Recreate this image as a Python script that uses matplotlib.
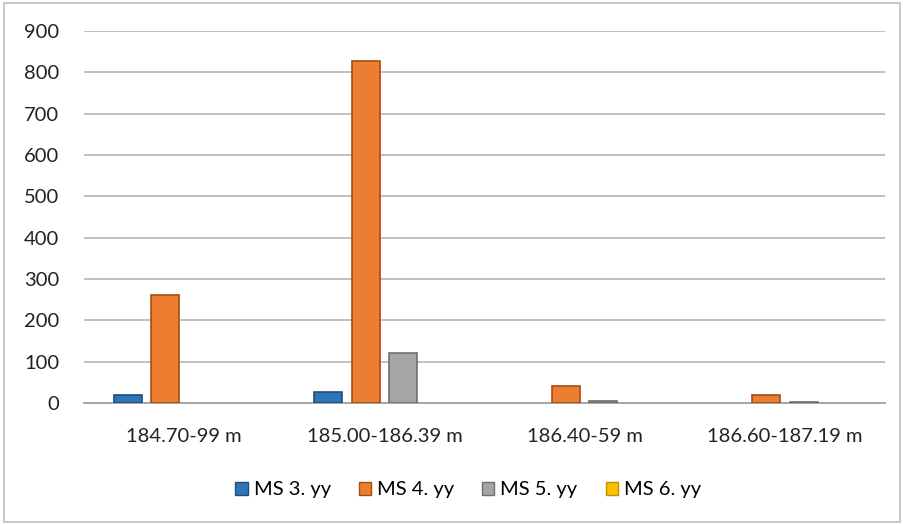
import matplotlib

matplotlib.use("Agg")
import matplotlib.pyplot as plt  # noqa: E402
import numpy as np  # noqa: E402
from matplotlib.patches import Rectangle  # noqa: E402

categories = ["184.70-99 m", "185.00-186.39 m", "186.40-59 m", "186.60-187.19 m"]
series_names = ["MS 3. yy", "MS 4. yy", "MS 5. yy", "MS 6. yy"]
ms3 = [20, 27, 0, 0]
ms4 = [262, 827, 42, 20]
ms5 = [0, 121, 5, 3]
ms6 = [0, 0, 0, 0]
y_ticks = [0, 100, 200, 300, 400, 500, 600, 700, 800, 900]

FACE = ["#2E75B6", "#ED7D31", "#A5A5A5", "#FFC000"]
EDGE = ["#1F4E79", "#A84A10", "#6E6E6E", "#BF9000"]

plt.rcParams["font.family"] = ["Lato", "DejaVu Sans"]

fig = plt.figure(figsize=(9.04, 5.24), dpi=100)
ax = fig.add_axes([0.093, 0.231, 0.886, 0.71])

x = np.arange(len(categories))
width = 0.14
step = 0.1875
offsets = [-1.5 * step, -0.5 * step, 0.5 * step, 1.5 * step]
handles = []
for values, name, off, fc, ec in zip([ms3, ms4, ms5, ms6], series_names, offsets, FACE, EDGE):
    vals = np.asarray(values, dtype=float)
    lw = np.where(vals > 0, 1.2, 0.0)
    h = ax.bar(x + off, vals, width, color=fc, edgecolor=ec, linewidth=lw, label=name, zorder=3)
    handles.append(h)

ax.set_xlim(-0.5, len(categories) - 0.5)
ax.set_ylim(0, 900)
ax.set_yticks(y_ticks)
ax.set_xticks(x)
ax.set_xticklabels(categories)
ax.tick_params(axis="both", length=0, labelsize=14.5, colors="#222222")
ax.tick_params(axis="x", pad=18)
ax.tick_params(axis="y", pad=18)
ax.grid(axis="y", color="#C0C0C0", linewidth=1.4, zorder=0)
for side in ["top", "right", "left"]:
    ax.spines[side].set_visible(False)
ax.spines["bottom"].set_color("#A6A6A6")
ax.spines["bottom"].set_linewidth(1.4)

legend_handles = [
    Rectangle((0, 0), 1, 1, facecolor=fc, edgecolor=ec, linewidth=1.0) for fc, ec in zip(FACE, EDGE)
]
fig.legend(
    handles=legend_handles,
    labels=series_names,
    loc="center",
    bbox_to_anchor=(0.518, 0.065),
    ncol=4,
    frameon=False,
    fontsize=14.5,
    handlelength=0.6,
    handleheight=0.6,
    handletextpad=0.3,
    columnspacing=1.4,
)

fig.patches.append(
    Rectangle((0.004, 0.004), 0.992, 0.99, transform=fig.transFigure, fill=False,
              edgecolor="#BFBFBF", linewidth=1.2)
)

fig.savefig("out.png", dpi=100)
plt.close(fig)
